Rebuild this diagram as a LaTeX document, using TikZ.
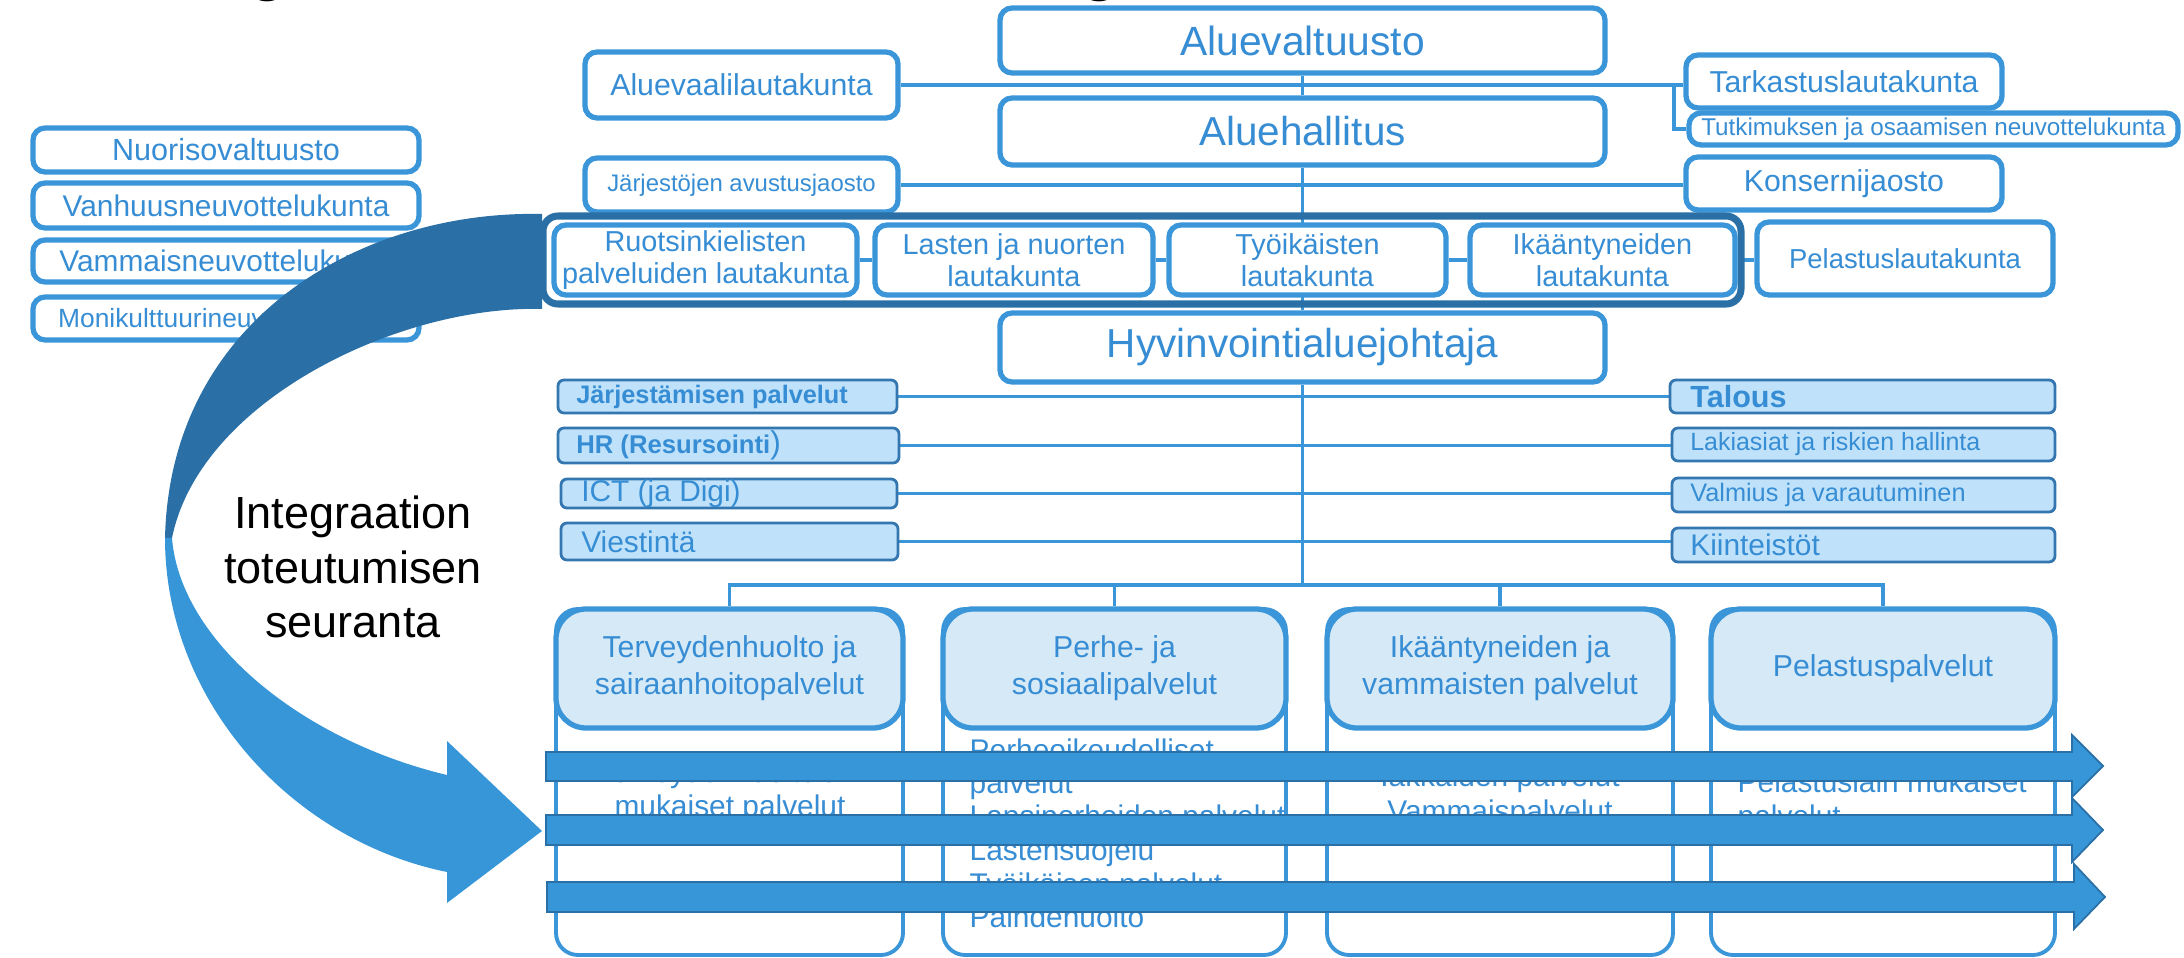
\documentclass[tikz,border=0pt]{standalone}
\usepackage{fontspec}
\setmainfont{Liberation Sans}
\usetikzlibrary{calc,backgrounds}
\definecolor{lb}{RGB}{58,150,216}
\definecolor{tb}{RGB}{55,141,212}
\definecolor{db}{RGB}{42,112,166}
\definecolor{ab}{RGB}{54,150,216}
\definecolor{sf}{RGB}{191,226,250}
\definecolor{sl}{RGB}{52,118,176}
\definecolor{hf}{RGB}{214,233,247}
\newcommand\fsz[2]{\fontsize{#1pt}{#2pt}\selectfont}
\newcommand\cbox[7]{\node[#6, minimum width={(#4-#2)*0.01cm}, minimum height={(#5-#3)*0.01cm}] (#1) at ({(#2+#4)/2},{(#3+#5)/2}) {#7};}
\begin{document}
\begin{tikzpicture}[x=0.01cm,y=-0.01cm,
  box/.style={draw=lb, line width=1.5pt, rounded corners=0.12cm, fill=white, text=tb, inner sep=0pt, align=center},
  grpbox/.style={draw=db, line width=2pt, rounded corners=0.15cm, inner sep=0pt},
  sup/.style={draw=sl, line width=0.8pt, rounded corners=0.06cm, fill=sf, inner sep=0pt},
  suptxt/.style={anchor=west, text=tb, inner sep=0pt},
  conn/.style={draw=lb, line width=1.1pt},
  colbox/.style={draw=lb, line width=1.1pt, rounded corners=0.22cm, fill=white, inner sep=0pt},
  head/.style={draw=lb, line width=1.5pt, rounded corners=0.3cm, fill=hf, text=tb, inner sep=0pt, align=center, font=\fsz{8.6}{10.5}},
  bodyc/.style={anchor=base, text=tb, inner sep=0pt, font=\fsz{8.5}{10}},
  bodyl/.style={anchor=base west, text=tb, inner sep=0pt, font=\fsz{8.5}{10}},
  band/.style={fill=ab, draw=db, line width=0.5pt}]
\useasboundingbox (0,0) rectangle (2184,958);
% cut-off title descenders
\begin{scope}
\clip (0,0) rectangle (2184,958);
\node[anchor=base, inner sep=0pt, font=\fsz{21}{25}] (tg1) at (268,-13) {g};
\node[anchor=base, inner sep=0pt, font=\fsz{21}{25}] (tg2) at (1100,-13) {g};
\end{scope}
% left advisory boxes
\cbox{nuo}{33}{128}{419}{172}{box, font=\fsz{8.7}{10}}{Nuorisovaltuusto}
\cbox{van}{33}{183}{419}{228}{box, font=\fsz{8.5}{10}}{Vanhuusneuvottelukunta}
\cbox{vam}{33}{240}{419}{282}{box, font=\fsz{8.5}{10}}{Vammaisneuvottelukunta}
\cbox{mon}{33}{297}{419}{340}{box, font=\fsz{7.5}{9}}{Monikulttuurineuvottelukunta}
% top boxes
\cbox{av}{1000}{8}{1605}{73}{box, font=\fsz{11.6}{14}}{Aluevaltuusto}
\cbox{avl}{585}{52}{898}{118}{box, font=\fsz{8.6}{10}}{Aluevaalilautakunta}
\cbox{ah}{1000}{98}{1605}{165}{box, font=\fsz{11.5}{14}}{Aluehallitus}
\cbox{tark}{1686}{55}{2002}{108}{box, font=\fsz{8.6}{10}}{Tarkastuslautakunta}
\cbox{tut}{1689}{113}{2178}{145}{box, font=\fsz{6.9}{8}}{Tutkimuksen ja osaamisen neuvottelukunta}
\cbox{jav}{585}{158}{898}{212}{box, font=\fsz{6.8}{8}}{Järjestöjen avustusjaosto}
\cbox{kon}{1686}{157}{2002}{210}{box, font=\fsz{8.6}{10}}{Konsernijaosto}
% curved arrow
\fill[db] (542,214) .. controls (360,210) and (170,320) .. (165,538) -- (172,538) .. controls (200,400) and (400,305) .. (542,309) -- cycle;
\fill[ab] (172,538) .. controls (180,640) and (300,740) .. (447,775) -- (447,741) -- (542,831) -- (447,903) -- (447,872) .. controls (290,840) and (165,700) .. (165,538) -- cycle;
\node[align=center, inner sep=0pt, font=\fsz{12.8}{15.4}] (integ) at (353,567) {Integraation\\toteutumisen\\seuranta};
% lautakunnat group
\cbox{grp}{543}{216}{1741}{304}{grpbox}{}
\cbox{rl}{554}{225}{857}{295}{box, font=\fsz{8.2}{9.1}}{Ruotsinkielisten\\palveluiden lautakunta}
\cbox{ll}{875}{225}{1153}{295}{box, font=\fsz{8.2}{9.1}}{Lasten ja nuorten\\lautakunta}
\cbox{tl}{1169}{225}{1446}{295}{box, font=\fsz{8.2}{9.1}}{Työikäisten\\lautakunta}
\cbox{il}{1470}{225}{1735}{295}{box, font=\fsz{8.2}{9.1}}{Ikääntyneiden\\lautakunta}
\cbox{pl}{1757}{222}{2053}{295}{box, font=\fsz{7.8}{9}}{Pelastuslautakunta}
\cbox{hj}{1000}{313}{1605}{382}{box, font=\fsz{11.5}{14}}{Hyvinvointialuejohtaja}
% support units
\cbox{jp}{558}{380}{897}{413}{sup}{}
\cbox{hr}{558}{428}{899}{463}{sup}{}
\cbox{ict}{561}{479}{897}{508}{sup}{}
\cbox{vi}{561}{523}{898}{560}{sup}{}
\cbox{tal}{1670}{380}{2055}{413}{sup}{}
\cbox{lak}{1672}{428}{2055}{461}{sup}{}
\cbox{val}{1672}{478}{2055}{512}{sup}{}
\cbox{kii}{1672}{528}{2055}{562}{sup}{}
\node[suptxt, font=\bfseries\fsz{7.2}{9}] (jpt) at ([xshift=0.19cm]jp.west) {Järjestämisen palvelut};
\node[suptxt, font=\fsz{7.3}{9}] (hrt) at ([xshift=0.19cm]hr.west) {{\bfseries HR (Resursointi}{\fsz{9}{10})}};
\node[suptxt, font=\fsz{8.5}{10}] (ictt) at ([xshift=0.21cm]ict.west) {ICT (ja Digi)};
\node[suptxt, font=\fsz{8.5}{10}] (vit) at ([xshift=0.21cm]vi.west) {Viestintä};
\node[suptxt, font=\bfseries\fsz{8.7}{10}] (talt) at ([xshift=0.21cm]tal.west) {Talous};
\node[suptxt, font=\fsz{7.1}{9}] (lakt) at ([xshift=0.19cm]lak.west) {Lakiasiat ja riskien hallinta};
\node[suptxt, font=\fsz{7.2}{9}] (valt) at ([xshift=0.19cm]val.west) {Valmius ja varautuminen};
\node[suptxt, font=\fsz{8.5}{10}] (kiit) at ([xshift=0.19cm]kii.west) {Kiinteistöt};
% service columns
\cbox{o1}{556}{609}{903}{955}{colbox}{}
\cbox{h1}{556}{609}{903}{728}{head}{Terveydenhuolto ja\\sairaanhoitopalvelut}
\cbox{o2}{943}{609}{1286}{955}{colbox}{}
\cbox{h2}{943}{609}{1286}{728}{head}{Perhe- ja\\sosiaalipalvelut}
\cbox{o3}{1327}{609}{1673}{955}{colbox}{}
\cbox{h3}{1327}{609}{1673}{728}{head}{Ikääntyneiden ja\\vammaisten palvelut}
\cbox{o4}{1711}{609}{2055}{955}{colbox}{}
\cbox{h4}{1711}{609}{2055}{728}{head}{Pelastuspalvelut}
% column contents
\node[bodyc] (b1a) at (730,782) {Terveydenhuoltolain};
\node[bodyc] (b1b) at (730,816) {mukaiset palvelut};
\node[bodyl] (b2a) at (969,760) {Perheoikeudelliset};
\node[bodyl] (b2b) at (969,793) {palvelut};
\node[bodyl] (b2c) at (969,827) {Lapsiperheiden palvelut};
\node[bodyl] (b2d) at (969,860) {Lastensuojelu};
\node[bodyl] (b2e) at (969,894) {Työikäisen palvelut};
\node[bodyl] (b2f) at (969,927) {Päihdehuolto};
\node[bodyc] (b3a) at (1500,787) {Iäkkäiden palvelut};
\node[bodyc] (b3b) at (1500,821) {Vammaispalvelut};
\node[bodyl] (b4a) at (1737,792) {Pelastuslain mukaiset};
\node[bodyl] (b4b) at (1737,826) {palvelut};
% connectors (behind)
\begin{scope}[on background layer]
\coordinate (br) at (1674,85);
\coordinate (busy) at (0,585);
\draw[conn] (av.south) -- (ah.north);
\draw[conn] (avl.east) -- (avl.east -| tark.west);
\draw[conn] (br) |- (tut.west);
\draw[conn] (jav.east) -- (jav.east -| kon.west);
\draw[conn] (ah.south) -- (hj.north);
\draw[conn] (rl.east) -- (ll.west);
\draw[conn] (ll.east) -- (tl.west);
\draw[conn] (tl.east) -- (il.west);
\draw[conn] (il.east) -- (il.east -| pl.west);
\draw[conn] (jp.east) -- (jp.east -| tal.west);
\draw[conn] (hr.east) -- (hr.east -| lak.west);
\draw[conn] (ict.east) -- (ict.east -| val.west);
\draw[conn] (vi.east) -- (vi.east -| kii.west);
\draw[conn] (hj.south) -- (hj.south |- busy);
\draw[conn] (h1.north) -- (h1.north |- busy) -- (h4.north |- busy) -- (h4.north);
\draw[conn] (h2.north) -- (h2.north |- busy);
\draw[conn] (h3.north) -- (h3.north |- busy);
\end{scope}
% horizontal integration arrows
\filldraw[band] (546,752) -- (2072,752) -- (2072,735) -- (2103,766) -- (2072,797) -- (2072,781) -- (546,781) -- cycle;
\filldraw[band] (546,815) -- (2072,815) -- (2072,798) -- (2103,830) -- (2072,862) -- (2072,845) -- (546,845) -- cycle;
\filldraw[band] (547,882) -- (2074,882) -- (2074,864) -- (2105,897) -- (2074,929) -- (2074,912) -- (547,912) -- cycle;
\end{tikzpicture}
\end{document}
